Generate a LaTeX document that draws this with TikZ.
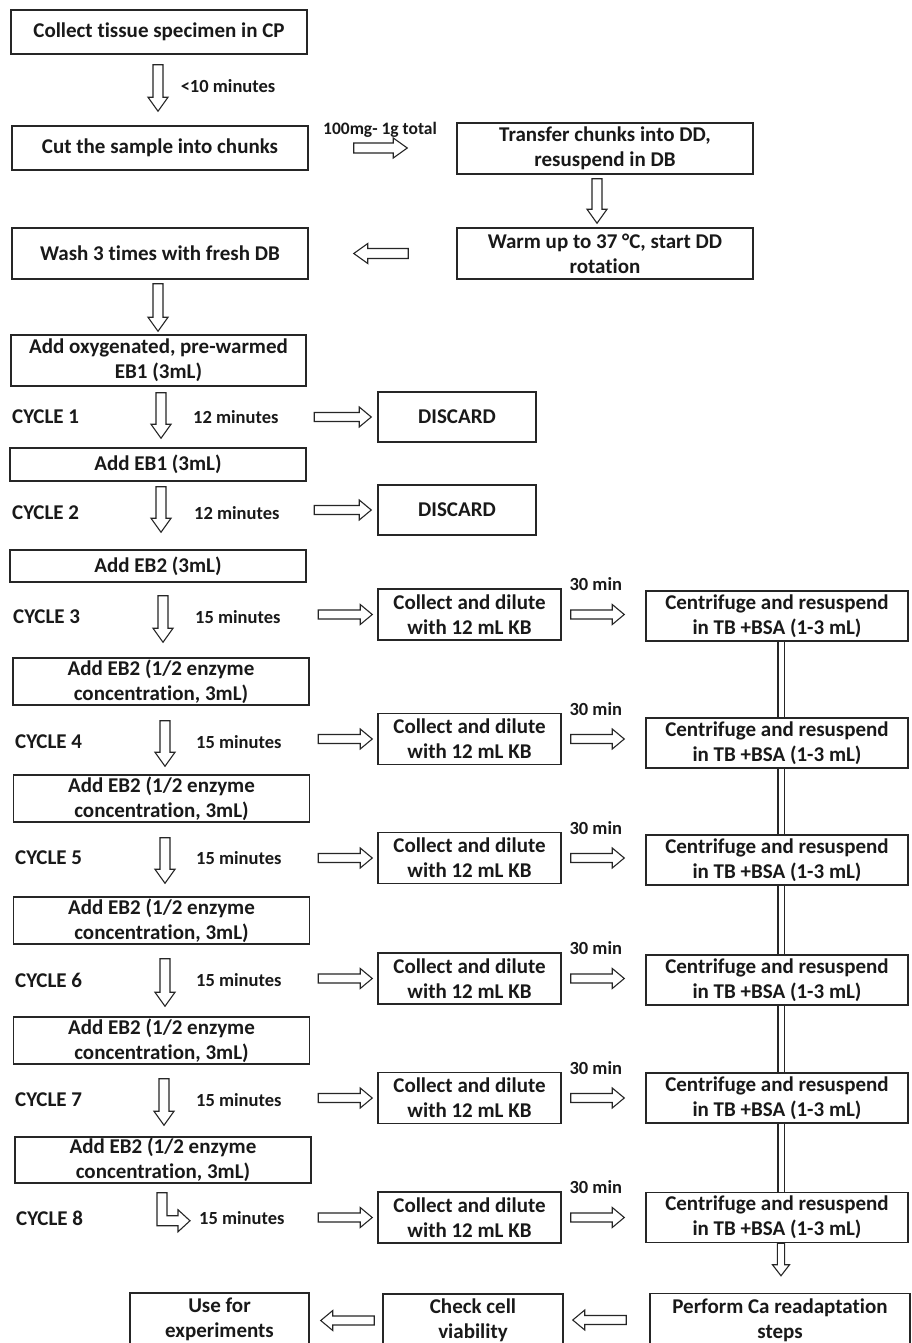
\documentclass[tikz,border=0pt]{standalone}
\usepackage{fontspec}
\setmainfont{Carlito}[Ligatures=NoCommon]
\usetikzlibrary{calc}
\def\arSW{5pt}\def\arHW{10pt}\def\arHL{14pt}
\tikzset{
 box/.style={draw=black!85, line width=1.5pt, fill=white, inner sep=0pt, align=center, text=black!90,
   font=\bfseries\fontsize{21}{25}\selectfont},
 lbl/.style={inner sep=0pt, text=black!90, font=\bfseries\fontsize{18.5}{22}\selectfont},
 cyc/.style={inner sep=0pt, anchor=west, text=black!90, font=\bfseries\fontsize{21}{25}\selectfont},
 arr/.style={draw=black!85, line width=1.1pt, fill=white, line join=miter},
 dline/.style={draw=black!85, line width=1.2pt, double=white, double distance=5pt},
 shaftw/.code={\def\arSW{#1}}, headw/.code={\def\arHW{#1}}, headl/.code={\def\arHL{#1}},
 dbar/.style={to path={let \p1=(\tikztostart), \p2=(\tikztotarget) in
   (\x1-\arSW,\y1) -- (\x1-\arSW,\y2+\arHL) -- (\x1-\arHW,\y2+\arHL) -- (\x1,\y2)
   -- (\x1+\arHW,\y2+\arHL) -- (\x1+\arSW,\y2+\arHL) -- (\x1+\arSW,\y1) -- cycle}},
 rbar/.style={to path={let \p1=(\tikztostart), \p2=(\tikztotarget) in
   (\x1,\y1+\arSW) -- (\x2-\arHL,\y1+\arSW) -- (\x2-\arHL,\y1+\arHW) -- (\x2,\y1)
   -- (\x2-\arHL,\y1-\arHW) -- (\x2-\arHL,\y1-\arSW) -- (\x1,\y1-\arSW) -- cycle}},
 lbar/.style={to path={let \p1=(\tikztostart), \p2=(\tikztotarget) in
   (\x1,\y1+\arSW) -- (\x2+\arHL,\y1+\arSW) -- (\x2+\arHL,\y1+\arHW) -- (\x2,\y1)
   -- (\x2+\arHL,\y1-\arHW) -- (\x2+\arHL,\y1-\arSW) -- (\x1,\y1-\arSW) -- cycle}},
 hbar/.style={shaftw=4.5pt, headw=10pt, headl=12pt},
}
\begin{document}
\begin{tikzpicture}[x=1pt,y=-1pt]
\useasboundingbox (0,0) rectangle (911,1343);
\fill[white] (0,0) rectangle (911,1343);
\clip (0,0) rectangle (911,1343);

% --- top section
\node[box, minimum width=296pt, minimum height=44pt] (n1) at (159,32) {Collect tissue specimen in CP};
\node[box, minimum width=296pt, minimum height=44pt] (n2) at (160,148) {Cut the sample into chunks};
\node[box, minimum width=296pt, minimum height=51pt] (n3) at (605,148.5) {Transfer chunks into DD,\\resuspend in DB};
\node[box, minimum width=296pt, minimum height=51pt] (n4) at (605,253.5) {Warm up to 37 °C, start DD\\rotation};
\node[box, minimum width=296pt, minimum height=51pt] (n5) at (160,253.5) {Wash 3 times with fresh DB};
\node[box, minimum width=295pt, minimum height=51pt] (n6) at (158.5,360.5) {Add oxygenated, pre-warmed\\EB1 (3mL)};
\node[box, minimum width=158pt, minimum height=50pt] (d1) at (457,417) {DISCARD};
\node[box, minimum width=296pt, minimum height=33pt] (n7) at (158,464.5) {Add EB1 (3mL)};
\node[box, minimum width=158pt, minimum height=50pt] (d2) at (457,510) {DISCARD};
\node[box, minimum width=296pt, minimum height=32pt] (n8) at (158,566) {Add EB2 (3mL)};

% --- half-concentration boxes
\node[box, minimum width=296pt, minimum height=47pt] (h3) at (161,681.5) {Add EB2 (1/2 enzyme\\concentration, 3mL)};
\node[box, minimum width=296pt, minimum height=47pt] (h4) at (161.5,798.5) {Add EB2 (1/2 enzyme\\concentration, 3mL)};
\node[box, minimum width=296pt, minimum height=47pt] (h5) at (161.5,920.5) {Add EB2 (1/2 enzyme\\concentration, 3mL)};
\node[box, minimum width=296pt, minimum height=47pt] (h6) at (161.5,1040.5) {Add EB2 (1/2 enzyme\\concentration, 3mL)};
\node[box, minimum width=296pt, minimum height=46pt] (h7) at (163,1160) {Add EB2 (1/2 enzyme\\concentration, 3mL)};

% --- collect and centrifuge boxes
\foreach \i/\cy/\ry in {3/614.5/616, 4/739/743, 5/858/860, 6/978.5/980, 7/1098/1098, 8/1217.5/1217.5} {
  \node[box, minimum width=183pt, minimum height=51pt] (c\i) at (469.5,\cy) {Collect and dilute\\with 12 mL KB};
  \node[box, minimum width=262pt, minimum height=50pt] (r\i) at (777,\ry) {Centrifuge and resuspend\\in TB +BSA (1-3 mL)};
}

% --- bottom row
\node[box, minimum width=179pt, minimum height=53pt] (u) at (219.5,1319.5) {Use for\\experiments};
\node[box, minimum width=180pt, minimum height=53pt] (k) at (473,1320.5) {Check cell\\viability};
\node[box, minimum width=260pt, minimum height=53pt] (p) at (780,1320) {Perform Ca readaptation\\steps};

% --- labels
\node[lbl] (t0) at (228,86) {<10 minutes};
\node[lbl, font=\bfseries\fontsize{17.5}{21}\selectfont] (t1) at (380,130) {100mg- 1g total};
\node[cyc] (y1) at (12,417) {CYCLE 1};
\node[cyc] (y2) at (12,513) {CYCLE 2};
\node[cyc] (y3) at (13,617) {CYCLE 3};
\node[cyc] (y4) at (15,742) {CYCLE 4};
\node[cyc] (y5) at (15,858) {CYCLE 5};
\node[cyc] (y6) at (15,980) {CYCLE 6};
\node[cyc] (y7) at (15,1100) {CYCLE 7};
\node[cyc] (y8) at (16,1218) {CYCLE 8};
\node[lbl, anchor=west] (m1) at (193,417) {12 minutes};
\node[lbl, anchor=west] (m2) at (194,513) {12 minutes};
\node[lbl, anchor=west] (m3) at (195,617) {15 minutes};
\node[lbl, anchor=west] (m4) at (196,742) {15 minutes};
\node[lbl, anchor=west] (m5) at (196,858) {15 minutes};
\node[lbl, anchor=west] (m6) at (196,980) {15 minutes};
\node[lbl, anchor=west] (m7) at (196,1100) {15 minutes};
\node[lbl, anchor=west] (m8) at (199,1218) {15 minutes};
\foreach \i in {3,...,8} {
  \node[lbl] (h\i lab) at ($(c\i.north east)+(34,-4)$) {30 min};
}

% --- vertical block arrows (left column)
\draw[arr,dbar] ($(n1.south)+(-1,10)$) to ($(n2.north)+(-2,-14)$);
\draw[arr,dbar] ($(n3.south)+(-8,4)$) to ($(n4.north)+(-8,-4)$);
\draw[arr,dbar] ($(n5.south)+(-2,4)$) to ($(n6.north)+(-0.5,-3)$);
\draw[arr,dbar] ($(n6.south)+(2.5,6)$) to ($(n7.north)+(3,-9)$);
\draw[arr,dbar] ($(n7.south)+(3,5)$) to ($(n8.north)+(3,-17)$);
\draw[arr,dbar] ($(n8.south)+(5,13)$) to ($(h3.north)+(2,-15)$);
\draw[arr,dbar] ($(h3.south)+(4,15)$) to ($(h4.north)+(3.5,-8)$);
\draw[arr,dbar] ($(h4.south)+(3.5,15)$) to ($(h5.north)+(3.5,-13)$);
\draw[arr,dbar] ($(h5.south)+(3.5,14)$) to ($(h6.north)+(3.5,-10)$);
\draw[arr,dbar] ($(h6.south)+(2.5,14)$) to ($(h7.north)+(1,-11)$);

% --- bent arrow of cycle 8
\coordinate (b8) at ($(h7.south)+(-6,9)$);
\draw[arr] (b8) -- ++(0,33) -- ++(21,0) -- ++(0,6) -- ++(12,-11) -- ++(-12,-11)
  -- ++(0,6) -- ++(-11,0) -- ++(0,-23) -- cycle;

% --- horizontal block arrows
\draw[arr,rbar] ($(n2.east)+(45,0)$) to ($(n3.west)+(-49,0)$);
\draw[arr,lbar] ($(n4.west)+(-48,0)$) to ($(n5.east)+(45,0)$);
\draw[arr,rbar,hbar] ($(d1.west)+(-63,0)$) to ($(d1.west)+(-6,0)$);
\draw[arr,rbar,hbar] ($(d2.west)+(-63,0)$) to ($(d2.west)+(-6,0)$);
\foreach \i in {3,...,8} {
  \draw[arr,rbar,hbar] ($(c\i.west)+(-59,0)$) to ($(c\i.west)+(-5,0)$);
  \draw[arr,rbar,hbar] ($(c\i.east)+(9,0)$) to ($(r\i.west)+(-21,0)$);
}
\draw[arr,lbar,hbar] ($(p.west)+(-23,0)$) to ($(k.east)+(9,0)$);
\draw[arr,lbar,hbar] ($(k.west)+(-8,0)$) to ($(u.east)+(11,0)$);

% --- right column double line and final arrow
\coordinate (vx) at (781,0);
\foreach \a/\b in {3/4,4/5,5/6,6/7,7/8} {
  \draw[dline] (r\a.south -| vx) -- (r\b.north -| vx);
}
\draw[arr,dbar,shaftw=3.6pt,headw=8.5pt,headl=11pt] (r8.south -| vx) to ($(p.north -| vx)+(0,-17)$);
\end{tikzpicture}
\end{document}
